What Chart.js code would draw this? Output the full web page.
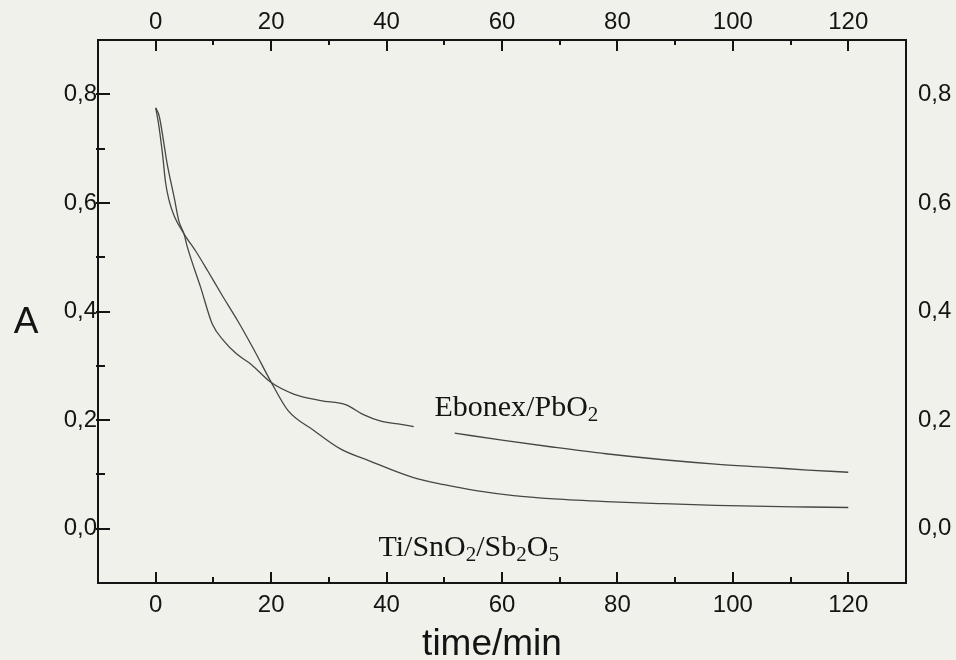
<!DOCTYPE html>
<html>
<head>
<meta charset="utf-8">
<script src="https://cdn.jsdelivr.net/npm/chart.js@4.4.0/dist/chart.umd.min.js"></script>
<style>
  html, body { margin: 0; padding: 0; background: #f1f1ec; }
  #wrap { width: 956px; height: 660px; }
</style>
</head>
<body>
<div id="wrap"><canvas id="chart" width="956" height="660"></canvas></div>
<script>
// absorbance vs. electrolysis time for the two anodes
const ebonexTime = [0, 0.6, 2, 3.2, 4, 4.9, 5.5, 7.8, 9.8, 11.8, 14, 16.5, 19.9, 23.9, 28.6, 33, 36, 39, 42, 44.7, 48, 51.8, 60, 69, 78, 88, 97, 106, 113, 120];
const ebonexA = [0.775, 0.76, 0.671, 0.61, 0.567, 0.543, 0.518, 0.444, 0.377, 0.346, 0.322, 0.303, 0.27, 0.248, 0.236, 0.228, 0.21, 0.198, 0.193, 0.188, null, 0.176, 0.163, 0.15, 0.138, 0.127, 0.119, 0.113, 0.108, 0.104];

const tiTime = [0, 0.5, 1.2, 1.7, 2.3, 3.2, 4.9, 7, 9, 11.5, 14.2, 17, 20, 22.9, 27.4, 32, 37, 44.4, 50, 55.5, 62, 69, 78, 88, 97, 106, 113, 120];
const tiA = [0.775, 0.745, 0.688, 0.638, 0.605, 0.576, 0.543, 0.51, 0.475, 0.43, 0.383, 0.33, 0.27, 0.218, 0.181, 0.147, 0.125, 0.095, 0.081, 0.070, 0.061, 0.055, 0.05, 0.046, 0.043, 0.041, 0.040, 0.039];

const timeTicks = [0, 20, 40, 60, 80, 100, 120];
const timeMinor = [10, 30, 50, 70, 90, 110];
const aTicks = [0, 0.2, 0.4, 0.6, 0.8];
const aMinor = [0.1, 0.3, 0.5, 0.7];

const INK = '#141414';
const LINE = '#444744';
const SANS = '"Liberation Sans", Arial, sans-serif';
const SERIF = '"Liberation Serif", "Times New Roman", serif';

const toPoints = (xs, ys) => xs.map((x, i) => ({ x: x, y: ys[i] }));
const commaFmt = v => v.toFixed(1).replace('.', ',');

// tick label font shared by all four axes
const tickFont = { family: SANS, size: 24 };

function axis(position, size, pad, values, fmt) {
  return {
    type: 'linear',
    position: position,
    afterBuildTicks: s => { s.ticks = values.map(v => ({ value: v })); },
    afterFit: s => {
      if (position === 'top' || position === 'bottom') s.height = size;
      else s.width = size;
    },
    grid: { drawOnChartArea: false, drawTicks: false },
    border: { display: true, color: INK, width: 2 },
    ticks: {
      autoSkip: false,
      maxRotation: 0,
      padding: pad,
      color: INK,
      font: tickFont,
      callback: fmt
    }
  };
}

// paper background
const paperPlugin = {
  id: 'paper',
  beforeDraw(chart) {
    const ctx = chart.ctx;
    ctx.save();
    ctx.fillStyle = '#f1f1ec';
    ctx.fillRect(0, 0, chart.width, chart.height);
    ctx.restore();
  }
};

// inward tick marks, axis titles and curve labels
const markPlugin = {
  id: 'marks',
  afterDraw(chart) {
    const ctx = chart.ctx;
    const { x, x2, y } = chart.scales;
    const area = chart.chartArea;
    ctx.save();
    ctx.strokeStyle = INK;
    ctx.lineWidth = 2;
    ctx.beginPath();
    timeTicks.concat(timeMinor).forEach(v => {
      const major = timeTicks.includes(v);
      const px = Math.round(x.getPixelForValue(v));
      ctx.moveTo(px, area.bottom);
      ctx.lineTo(px, area.bottom - (major ? 11 : 6));
      const pt = Math.round(x2.getPixelForValue(v));
      ctx.moveTo(pt, area.top);
      ctx.lineTo(pt, area.top + (major ? 11 : 5));
    });
    aTicks.concat(aMinor).forEach(v => {
      const major = aTicks.includes(v);
      const py = Math.round(y.getPixelForValue(v));
      ctx.moveTo(area.left - 2, py);
      ctx.lineTo(area.left + (major ? 12 : 7), py);
    });
    ctx.stroke();

    ctx.fillStyle = INK;
    ctx.textBaseline = 'alphabetic';
    ctx.textAlign = 'center';
    ctx.font = '37px ' + SANS;
    ctx.fillText('A', 26, 333);
    ctx.fillText('time/min', 492, 655);

    drawSub(ctx, [['Ebonex/PbO', 0], ['2', 1]],
      x.getPixelForValue(48.3), y.getPixelForValue(0.207));
    drawSub(ctx, [['Ti/SnO', 0], ['2', 1], ['/Sb', 0], ['2', 1], ['O', 0], ['5', 1]],
      x.getPixelForValue(38.6), y.getPixelForValue(-0.05));
    ctx.restore();
  }
};

// serif text with subscript runs, left-aligned on a baseline
function drawSub(ctx, parts, left, base) {
  ctx.textAlign = 'left';
  ctx.textBaseline = 'alphabetic';
  let cx = left;
  parts.forEach(([t, sub]) => {
    ctx.font = (sub ? '21px ' : '30px ') + SERIF;
    ctx.fillText(t, cx, base + (sub ? 5 : 0));
    cx += ctx.measureText(t).width;
  });
}

new Chart(document.getElementById('chart'), {
  type: 'line',
  data: {
    datasets: [
      {
        label: 'Ebonex/PbO2',
        data: toPoints(ebonexTime, ebonexA),
        borderColor: LINE,
        borderWidth: 1.3,
        pointRadius: 0,
        cubicInterpolationMode: 'monotone',
        spanGaps: false
      },
      {
        label: 'Ti/SnO2/Sb2O5',
        data: toPoints(tiTime, tiA),
        borderColor: LINE,
        borderWidth: 1.3,
        pointRadius: 0,
        cubicInterpolationMode: 'monotone'
      }
    ]
  },
  options: {
    responsive: false,
    devicePixelRatio: 1,
    animation: false,
    layout: { padding: 0 },
    plugins: { legend: { display: false }, tooltip: { enabled: false } },
    scales: {
      x: Object.assign(axis('bottom', 77, 8, timeTicks, v => v), { min: -10, max: 130 }),
      x2: Object.assign(axis('top', 40, 3, timeTicks, v => v), { min: -10, max: 130 }),
      y: Object.assign(axis('left', 98, 1, aTicks, commaFmt), { min: -0.1, max: 0.9 }),
      y2: Object.assign(axis('right', 50, 12, aTicks, commaFmt), { min: -0.1, max: 0.9 })
    }
  },
  plugins: [paperPlugin, markPlugin]
});
</script>
</body>
</html>
